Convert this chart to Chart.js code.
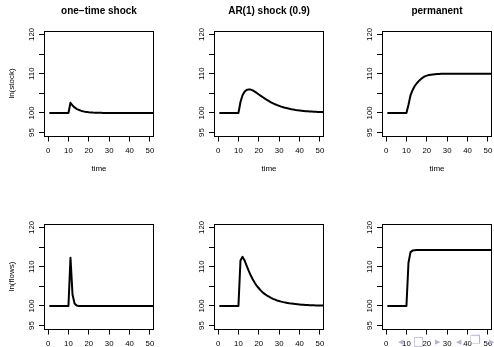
<!DOCTYPE html>
<html>
<head>
<script src="https://cdn.jsdelivr.net/npm/chart.js"></script>
<style>
  html, body { margin: 0; padding: 0; background: #fff; overflow: hidden; width: 494px; height: 347px; }
  canvas { position: absolute; }
  .nav { position: absolute; color: #b4b4e0; font-family: "DejaVu Sans", sans-serif; line-height: 1; }
</style>
</head>
<body>
<canvas id="p0"></canvas>
<canvas id="p1"></canvas>
<canvas id="p2"></canvas>
<canvas id="p3"></canvas>
<canvas id="p4"></canvas>
<canvas id="p5"></canvas>
<!-- beamer navigation symbols -->
<span class="nav" style="left:398px; top:339px; font-size:7px;">&#9664;</span>
<span class="nav" style="left:413px; top:335px; font-size:12px;">&#9633;</span>
<span class="nav" style="left:435px; top:339px; font-size:7px;">&#9654;</span>
<span class="nav" style="left:456px; top:339px; font-size:7px;">&#9664;</span>
<span class="nav" style="left:470px; top:334px; font-size:12px;">&#10064;</span>
<span class="nav" style="left:489px; top:339px; font-size:7px;">&#9654;</span>
<script>
// time index of the simulation
var time = [1,2,3,4,5,6,7,8,9,10,11,12,13,14,15,16,17,18,19,20,21,22,23,24,25,26,
            27,28,29,30,31,32,33,34,35,36,37,38,39,40,41,42,43,44,45,46,47,48,49,50,51,52];

// ln(stock) responses
var stockOneTime = [100,100,100,100,100,100,100,100,100,100,
  102.6,101.9,101.4,101.05,100.8,100.6,100.45,100.33,100.25,100.18,100.13,100.09,100.07,100.05,100.03,100.02,100.01,
  100,100,100,100,100,100,100,100,100,100,100,100,100,100,100,100,100,100,100,100,100,100,100,100,100];
var stockAR = [100,100,100,100,100,100,100,100,100,100,
  102.8,104.5,105.4,105.85,106.0,105.95,105.75,105.45,105.1,104.7,104.35,104.0,103.65,103.3,103.0,102.7,
  102.45,102.2,102.0,101.8,101.6,101.45,101.3,101.18,101.06,100.95,100.86,100.77,100.7,100.63,100.57,100.51,
  100.46,100.42,100.38,100.34,100.31,100.28,100.25,100.23,100.21,100.19];
var stockPerm = [100,100,100,100,100,100,100,100,100,100,
  102.1,104.5,105.8,106.8,107.5,108.1,108.6,109.0,109.3,109.5,109.65,109.75,109.82,109.87,109.91,109.94,
  109.96,109.97,109.98,109.99,110,110,110,110,110,110,110,110,110,110,110,110,110,110,110,110,110,110,110,110,110,110];

// ln(flows) responses
var flowOneTime = [100,100,100,100,100,100,100,100,100,100,
  112.3,102.9,100.6,100.1,100,100,100,100,100,100,100,100,100,100,100,100,
  100,100,100,100,100,100,100,100,100,100,100,100,100,100,100,100,100,100,100,100,100,100,100,100,100,100];
var flowAR = [100,100,100,100,100,100,100,100,100,100,
  111.6,112.5,111.6,110.3,109.0,107.8,106.8,105.9,105.1,104.5,103.9,103.4,103.0,102.65,102.35,102.05,
  101.8,101.6,101.4,101.25,101.1,100.97,100.86,100.76,100.67,100.6,100.53,100.47,100.42,100.37,100.33,100.29,
  100.26,100.23,100.2,100.18,100.16,100.14,100.12,100.11,100.1,100.09];
var flowPerm = [100,100,100,100,100,100,100,100,100,100,
  111.0,113.7,114.1,114.2,114.25,114.25,114.25,114.25,114.25,114.25,114.25,114.25,114.25,114.25,114.25,114.25,
  114.25,114.25,114.25,114.25,114.25,114.25,114.25,114.25,114.25,114.25,114.25,114.25,114.25,114.25,114.25,114.25,
  114.25,114.25,114.25,114.25,114.25,114.25,114.25,114.25,114.25,114.25];

var titles = ['one\u2212time shock', 'AR(1) shock (0.9)', 'permanent'];
var rowLabels = ['ln(stock)', 'ln(flows)'];
var xTicks = [0, 10, 20, 30, 40, 50];
var yTicks = [95, 100, 105, 110, 115, 120];
var yTickLabels = ['95', '100', '', '110', '', '120'];

var series = [stockOneTime, stockAR, stockPerm, flowOneTime, flowAR, flowPerm];

var FONT = '"Liberation Sans", Arial, Helvetica, sans-serif';

// R style box and tick labels
var rFrame = {
  id: 'rFrame',
  afterDraw: function(chart) {
    var ctx = chart.ctx, a = chart.chartArea;
    var xs = chart.scales.x, ys = chart.scales.y;
    ctx.save();
    ctx.strokeStyle = '#000';
    ctx.lineWidth = 1;
    ctx.strokeRect(Math.round(a.left) + 0.5, Math.round(a.top) + 0.5,
                   Math.round(a.right - a.left) - 1, Math.round(a.bottom - a.top) - 1);
    ctx.fillStyle = '#000';
    ctx.font = '7.8px ' + FONT;
    ctx.textAlign = 'center';
    ctx.textBaseline = 'middle';
    xTicks.forEach(function(v) {
      ctx.fillText(String(v), xs.getPixelForValue(v), a.bottom + 14);
    });
    yTicks.forEach(function(v, i) {
      if (!yTickLabels[i]) return;
      ctx.save();
      ctx.translate(a.left - 12.3, ys.getPixelForValue(v));
      ctx.rotate(-Math.PI / 2);
      ctx.fillText(yTickLabels[i], 0, 0);
      ctx.restore();
    });
    ctx.restore();
  }
};

var canvasLeft = [0, 170, 338];
var canvasWidth = [165, 165, 156];
var rowTop = [0, 193];

for (var k = 0; k < 6; k++) {
  var r = Math.floor(k / 3), c = k % 3;
  var cv = document.getElementById('p' + k);
  cv.width = canvasWidth[c];
  cv.height = 175;
  cv.style.left = canvasLeft[c] + 'px';
  cv.style.top = rowTop[r] + 'px';

  var pts = time.map(function(t, i) { return { x: t, y: this[i] }; }, series[k]);

  new Chart(cv.getContext('2d'), {
    type: 'line',
    data: {
      datasets: [{
        data: pts,
        borderColor: '#000',
        borderWidth: 2,
        pointRadius: 0,
        tension: 0,
        borderJoinStyle: 'round',
        borderCapStyle: 'round',
        clip: 0
      }]
    },
    options: {
      responsive: false,
      animation: false,
      layout: { padding: { left: 0, top: 0, bottom: 0, right: canvasWidth[c] - 44 - 110 } },
      plugins: {
        legend: { display: false },
        tooltip: { enabled: false },
        title: {
          display: true,
          fullSize: false,
          text: r === 0 ? titles[c] : '',
          color: '#000',
          font: { family: FONT, size: 10, weight: 'bold', lineHeight: 1.2 },
          padding: { top: 5.7, bottom: 12.8 }
        }
      },
      scales: {
        x: {
          type: 'linear',
          min: -2, max: 52,
          afterBuildTicks: function(s) { s.ticks = xTicks.map(function(v) { return { value: v }; }); },
          afterFit: function(s) { s.height = 38.5; },
          ticks: { display: false },
          grid: { drawOnChartArea: false, drawTicks: true, tickLength: 5, color: '#000', lineWidth: 1 },
          border: { display: false },
          title: { display: true, text: 'time', color: '#000',
                   font: { family: FONT, size: 8, lineHeight: 1.2 }, padding: { top: 0, bottom: 1.2 } }
        },
        y: {
          type: 'linear',
          min: 94, max: 121,
          afterBuildTicks: function(s) { s.ticks = yTicks.map(function(v) { return { value: v }; }); },
          afterFit: function(s) { s.width = 44; },
          ticks: { display: false },
          grid: { drawOnChartArea: false, drawTicks: true, tickLength: 5, color: '#000', lineWidth: 1 },
          border: { display: false },
          title: { display: c === 0, text: rowLabels[r], color: '#000',
                   font: { family: FONT, size: 8, lineHeight: 1.2 }, padding: { top: 6.9, bottom: 0 } }
        }
      }
    },
    plugins: [rFrame]
  });
}
</script>
</body>
</html>
